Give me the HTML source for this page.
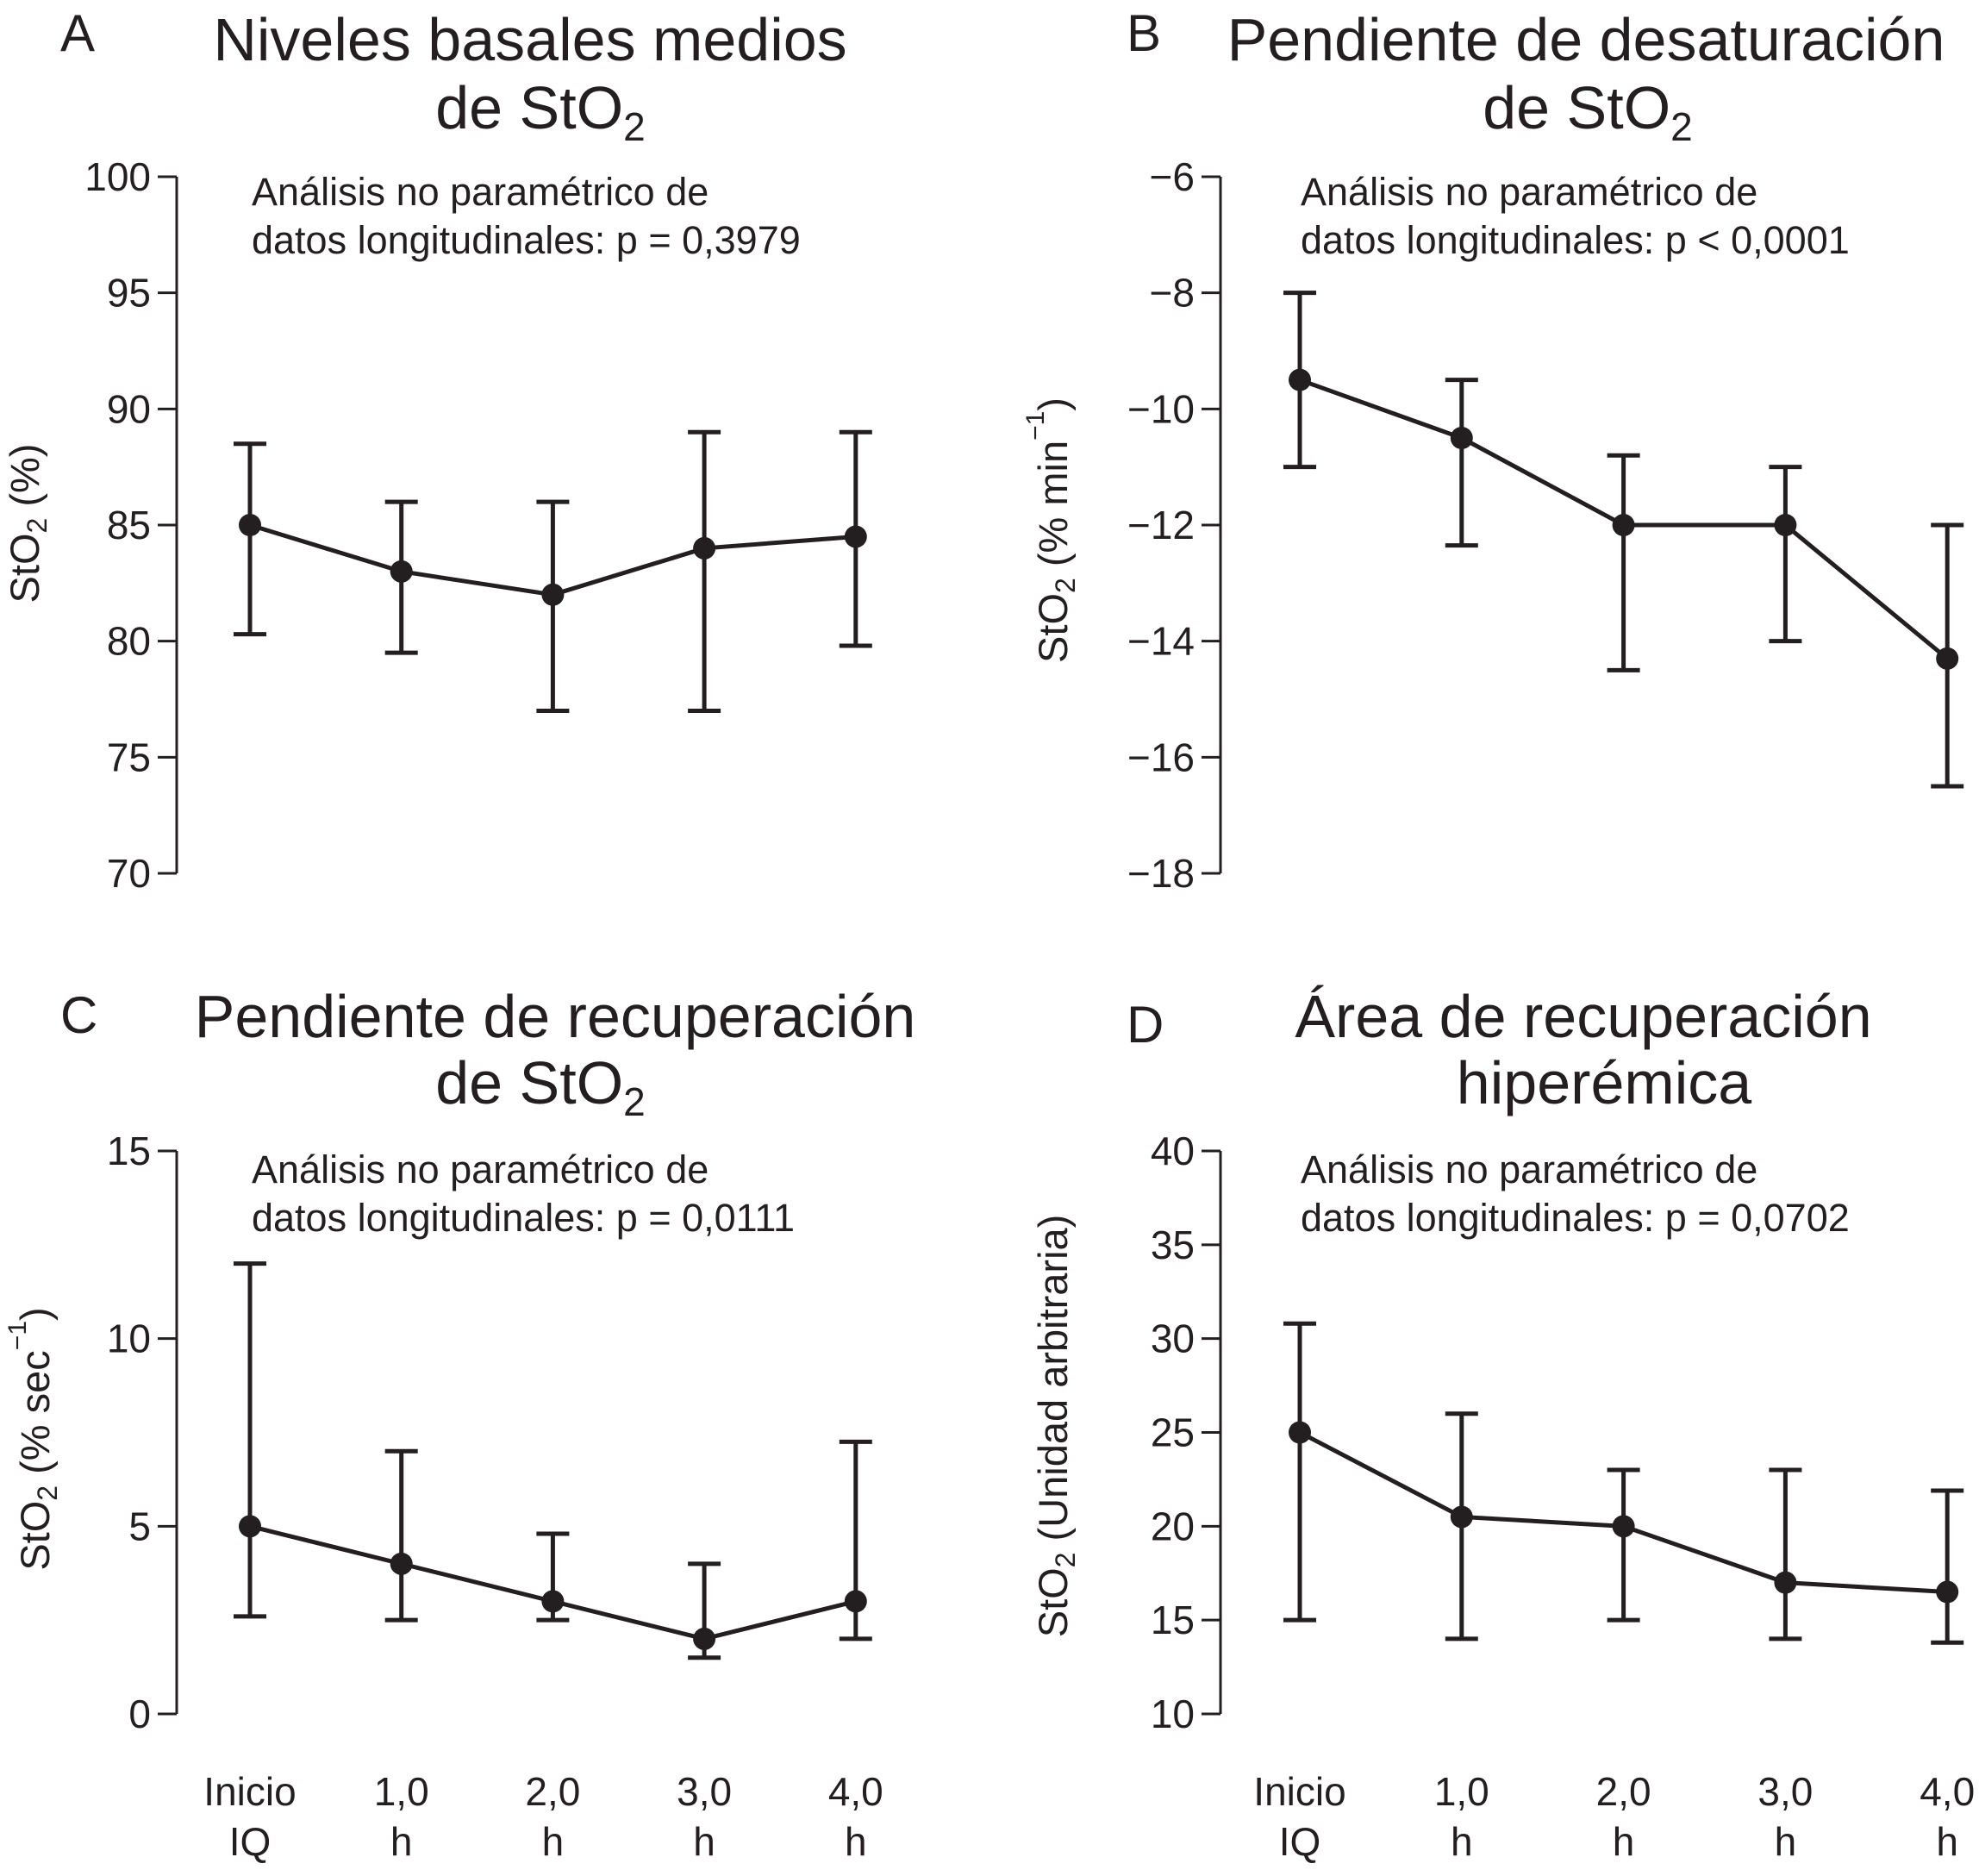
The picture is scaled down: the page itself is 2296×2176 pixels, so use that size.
<!DOCTYPE html>
<html><head><meta charset="utf-8"><style>
html,body{margin:0;padding:0;background:#fff}
svg{display:block}
text{font-family:"Liberation Sans",Arial,sans-serif;fill:#231f20}
</style></head><body>
<svg id="fig" width="2296" height="2176" viewBox="0 0 2296 2176" xmlns="http://www.w3.org/2000/svg"></svg>
<script>
const xCategories=["Inicio|IQ","1,0|h","2,0|h","3,0|h","4,0|h"];
const aMean=[85,83,82,84,84.5];
const aUpper=[88.5,86,86,89,89];
const aLower=[80.3,79.5,77,77,79.8];
const aTicks=[70,75,80,85,90,95,100];
const bMean=[-9.5,-10.5,-12,-12,-14.3];
const bUpper=[-8,-9.5,-10.8,-11,-12];
const bLower=[-11,-12.35,-14.5,-14,-16.5];
const bTicks=[-18,-16,-14,-12,-10,-8,-6];
const cMean=[5,4,3,2,3];
const cUpper=[12,7,4.8,4,7.25];
const cLower=[2.6,2.5,2.5,1.5,2];
const cTicks=[0,5,10,15];
const dMean=[25,20.5,20,17,16.5];
const dUpper=[30.8,26,23,23,21.9];
const dLower=[15,14,15,14,13.8];
const dTicks=[10,15,20,25,30,35,40];

const NS="http://www.w3.org/2000/svg";
const svg=document.getElementById('fig');
function el(tag,attrs,parent,txt){const e=document.createElementNS(NS,tag);for(const k in attrs)e.setAttribute(k,attrs[k]);if(txt!==undefined)e.textContent=txt;(parent||svg).appendChild(e);return e;}

const panels=[
 {id:'a',letter:'A',lx:70,ly:59,title:['Niveles basales medios','de StO|2'],tcx:615,tcx2:627,ty1:70,ty2:149,
  ax:205,yTop:205,yBot:1013,x0:290,dx:175.7,ticks:aTicks,mean:aMean,up:aUpper,lo:aLower,
  ann:'p = 0,3979',annX:292,annY:238,ylab:['StO','2',' (%)'],ylx:29,yly:607,xl:false},
 {id:'b',letter:'B',lx:1307,ly:59,title:['Pendiente de desaturación','de StO|2'],tcx:1840,tcx2:1842,ty1:70,ty2:149,
  ax:1416,yTop:205,yBot:1013,x0:1508,dx:187.8,ticks:bTicks,mean:bMean,up:bUpper,lo:bLower,
  ann:'p < 0,0001',annX:1509,annY:238,ylab:['StO','2',' (% min','−1',')'],ylx:1222,yly:615,xl:false},
 {id:'c',letter:'C',lx:70,ly:1198,title:['Pendiente de recuperación','de StO|2'],tcx:644,tcx2:627,ty1:1203,ty2:1280,
  ax:205,yTop:1335,yBot:1988,x0:290,dx:175.7,ticks:cTicks,mean:cMean,up:cUpper,lo:cLower,
  ann:'p = 0,0111',annX:292,annY:1372,ylab:['StO','2',' (% sec','−1',')'],ylx:41,yly:1669,xl:true},
 {id:'d',letter:'D',lx:1307,ly:1209,title:['Área de recuperación','hiperémica'],tcx:1837,tcx2:1861,ty1:1203,ty2:1280,
  ax:1416,yTop:1335,yBot:1988,x0:1508,dx:187.8,ticks:dTicks,mean:dMean,up:dUpper,lo:dLower,
  ann:'p = 0,0702',annX:1509,annY:1372,ylab:['StO','2',' (Unidad arbitraria)'],ylx:1222,yly:1654,xl:true}
];

panels.forEach(p=>{
  const g=el('g',{});
  
  
  const mn=p.ticks[0],mx=p.ticks[p.ticks.length-1];
  const y=v=>p.yBot-(v-mn)/(mx-mn)*(p.yBot-p.yTop);
  const x=i=>p.x0+i*p.dx;
  const L=el('text',{x:p.lx,y:p.ly,'font-size':60},g,p.letter);
  
  
  const t1=el('text',{x:p.tcx,y:p.ty1,'font-size':70,'text-anchor':'middle'},g,p.title[0]);
  
  
  const parts=p.title[1].split('|');
  const t2=el('text',{x:p.tcx2,y:p.ty2,'font-size':70,'text-anchor':'middle'},g);
  
  
  el('tspan',{},t2,parts[0]);
  if(parts[1]) el('tspan',{'font-size':46,dy:14},t2,parts[1]);
  const an=el('text',{x:p.annX,y:p.annY,'font-size':45},g,'Análisis no paramétrico de');
  
  
  el('text',{x:p.annX,y:p.annY+56,'font-size':45},g,'datos longitudinales: '+p.ann);
  const axl=el('line',{x1:p.ax,y1:p.yTop,x2:p.ax,y2:p.yBot,stroke:'#231f20','stroke-width':3},g);
  
  
  p.ticks.forEach(v=>{
    el('line',{x1:p.ax-22,y1:y(v),x2:p.ax,y2:y(v),stroke:'#231f20','stroke-width':3},g);
    const lab=(v<0?'−'+Math.abs(v):String(v));
    const tl=el('text',{x:p.ax-30,y:y(v)+16,'font-size':46,'text-anchor':'end'},g,lab);
    
    
  });
  const yl=el('text',{transform:`translate(${p.ylx+16},${p.yly}) rotate(-90)`,'font-size':47,'text-anchor':'middle'},g);
  
  
  p.ylab.forEach((s,i)=>{
    if(s==='2') el('tspan',{'font-size':32,dy:9},yl,s);
    else if(s==='−1') el('tspan',{'font-size':30,dy:-27},yl,s);
    else if(i>0 && (p.ylab[i-1]==='2')) el('tspan',{dy:-9},yl,s);
    else if(i>0 && (p.ylab[i-1]==='−1')) el('tspan',{dy:27},yl,s);
    else el('tspan',{},yl,s);
  });
  p.mean.forEach((m,i)=>{
    const eb=el('g',{stroke:'#231f20','stroke-width':5,fill:'none'},g);
    
    
    el('line',{x1:x(i),y1:y(p.up[i]),x2:x(i),y2:y(p.lo[i])},eb);
    el('line',{x1:x(i)-19,y1:y(p.up[i]),x2:x(i)+19,y2:y(p.up[i])},eb);
    el('line',{x1:x(i)-19,y1:y(p.lo[i]),x2:x(i)+19,y2:y(p.lo[i])},eb);
  });
  const pts=p.mean.map((m,i)=>x(i)+','+y(m)).join(' ');
  const ln=el('polyline',{points:pts,fill:'none',stroke:'#231f20','stroke-width':5},g);
  
  
  p.mean.forEach((m,i)=>{
    const c=el('circle',{cx:x(i),cy:y(m),r:13,fill:'#231f20'},g);
    
    
  });
  if(p.xl){
    xCategories.forEach((c,i)=>{
      const [a,b]=c.split('|');
      const t=el('text',{x:x(i),y:2094,'font-size':46,'text-anchor':'middle'},g,a);
      
      
      el('text',{x:x(i),y:2152,'font-size':46,'text-anchor':'middle'},g,b);
    });
  }
});
</script>
</body></html>
